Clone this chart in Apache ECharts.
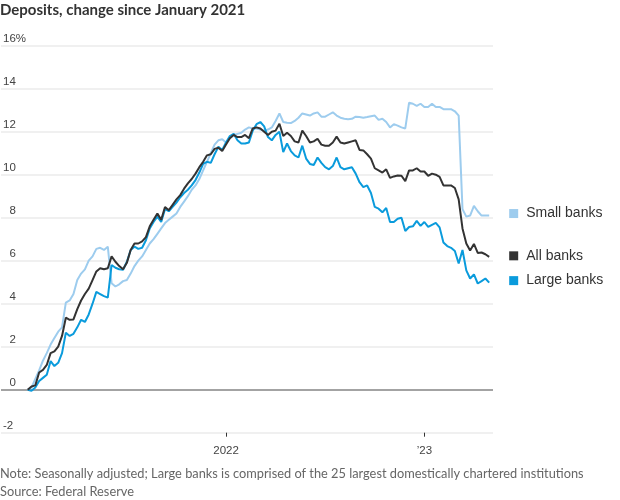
<!DOCTYPE html>
<html>
<head>
<meta charset="utf-8">
<script src="https://cdn.jsdelivr.net/npm/echarts@6/dist/echarts.min.js"></script>
<style>html,body{margin:0;padding:0;background:#fff}#c{width:620px;height:500px}</style>
</head>
<body>
<div id="c"></div>
<script>
// Weekly observations starting 2021-01-06
var startDate = '2021-01-06';
var leadWeeks = 7;   // empty weeks shown before the first observation
var trailWeeks = 1;  // empty week shown after the last observation
var smallBanks = [0,0.1,0.5,0.9,1.35,1.7,2.1,2.4,2.7,2.9,4.05,4.15,4.45,5.1,5.4,5.6,6.0,6.2,6.55,6.6,6.5,6.65,4.95,4.8,4.9,5.05,5.1,5.4,5.75,6.0,6.2,6.5,6.8,7.0,7.25,7.5,7.75,7.9,8.05,8.2,8.5,8.75,9.0,9.3,9.5,9.8,10.2,10.6,11.0,11.4,11.6,11.65,11.5,11.7,11.85,11.9,11.95,12.1,12.2,12.15,12.15,12.1,12.05,12.1,12.2,12.5,12.85,12.45,12.42,12.4,12.5,12.65,12.85,12.8,12.75,12.85,12.9,12.7,12.7,12.8,12.9,12.75,12.65,12.6,12.58,12.6,12.7,12.68,12.65,12.68,12.72,12.75,12.55,12.6,12.45,12.2,12.35,12.28,12.2,12.15,13.35,13.3,13.2,13.3,13.15,13.15,13.3,13.15,13.15,13.05,13.05,13.05,12.95,12.75,8.4,8.05,8.1,8.55,8.3,8.1,8.1,8.1];
var allBanks = [0,0.15,0.2,0.8,0.92,1.15,1.7,1.78,2.0,2.5,3.35,3.25,3.27,3.75,4.15,4.45,4.7,5.1,5.5,5.65,5.6,5.65,6.2,5.95,5.75,5.6,5.9,6.5,6.8,6.8,6.9,7.1,7.6,7.9,8.2,7.9,8.5,8.35,8.6,8.85,9.05,9.35,9.6,9.8,10.05,10.35,10.6,10.9,10.95,11.2,11.25,11.1,11.4,11.7,11.85,11.75,11.75,11.85,11.7,12.15,12.2,12.15,12.0,11.85,12.0,12.05,12.37,11.8,11.95,11.8,11.55,11.5,12.05,11.8,11.5,11.55,11.67,11.4,11.35,11.35,11.5,11.77,11.5,11.45,11.5,11.55,11.6,11.15,11.13,10.95,10.75,10.3,10.2,10.1,10.25,9.85,9.92,9.96,9.95,9.7,10.2,10.2,10.3,10.15,10.15,9.95,10.05,10.0,9.9,9.5,9.5,9.5,9.38,8.85,7.5,6.8,6.47,6.78,6.36,6.38,6.3,6.18];
var largeBanks = [0,-0.05,0.1,0.4,0.55,0.7,1.33,1.1,1.25,1.7,2.65,2.5,2.6,2.9,3.25,3.15,3.5,4.0,4.55,4.45,4.35,4.28,5.8,5.67,5.6,5.58,5.95,6.5,6.65,6.55,6.6,6.95,7.5,7.8,8.05,7.8,8.4,8.3,8.5,8.7,8.95,9.15,9.3,9.5,9.75,10.1,10.5,10.6,10.55,10.95,11.3,11.15,11.5,11.8,11.9,11.6,11.45,11.45,11.5,12.05,12.35,12.45,12.25,11.75,11.6,11.85,12.0,11.05,11.45,11.1,10.9,10.8,11.35,10.75,10.5,10.45,10.8,10.55,10.35,10.25,10.4,10.8,10.35,10.25,10.3,10.35,10.05,9.65,9.42,9.5,9.15,8.5,8.42,8.25,8.45,7.8,7.8,7.95,8.0,7.38,7.57,7.6,7.85,7.62,7.8,7.57,7.67,7.76,7.55,6.85,6.68,6.6,6.45,5.87,6.5,5.55,5.17,5.36,4.94,5.05,5.17,4.98];
var seriesNames = ['Small banks', 'All banks', 'Large banks'];
var yTicks = [-2, 0, 2, 4, 6, 8, 10, 12, 14, 16];
var xTickLabels = {'2022': '2022', '2023': '\u201923'};

var dates = [];
(function(){
  var d0 = new Date(startDate + 'T00:00:00Z').getTime();
  for (var i = -leadWeeks; i < smallBanks.length + trailWeeks; i++) {
    dates.push(new Date(d0 + i * 7 * 86400000).toISOString().slice(0, 10));
  }
})();
function pad(arr) {
  var out = [];
  for (var i = 0; i < leadWeeks; i++) out.push(null);
  out = out.concat(arr);
  for (var j = 0; j < trailWeeks; j++) out.push(null);
  return out;
}
function isLabelTick(idx) {
  if (idx === 0) return false;
  var y = dates[idx].slice(0, 4);
  return y !== dates[idx - 1].slice(0, 4) && xTickLabels.hasOwnProperty(y);
}

var colors = {'Small banks': '#9dccee', 'All banks': '#333333', 'Large banks': '#0a9bdc'};
var dataByName = {'Small banks': smallBanks, 'All banks': allBanks, 'Large banks': largeBanks};
var labelOffsets = {'Small banks': -2, 'All banks': -1, 'Large banks': -2};
var zOrder = {'Small banks': 2, 'Large banks': 3, 'All banks': 4};

var REG = '"Liberation Sans", Arial, sans-serif';
var LATO = 'Lato, "Liberation Sans", Arial, sans-serif';

var series = seriesNames.map(function(name, k) {
  var s = {
    name: name,
    type: 'line',
    data: pad(dataByName[name]),
    symbol: 'none',
    connectNulls: false,
    z: zOrder[name],
    lineStyle: {color: colors[name], width: 2},
    itemStyle: {color: colors[name]},
    endLabel: {
      show: true,
      distance: 20,
      offset: [0, labelOffsets[name]],
      formatter: '{sq| }{t|' + name + '}',
      rich: {
        sq: {width: 9, height: 9, backgroundColor: colors[name]},
        t: {fontFamily: REG, fontSize: 14, color: '#333', padding: [0, 0, 0, 8]}
      }
    },
    emphasis: {disabled: true}
  };
  if (k === 0) {
    s.markLine = {
      silent: true,
      symbol: 'none',
      label: {show: false},
      lineStyle: {color: '#8a8a8a', type: 'solid', width: 1.5},
      data: [{yAxis: 0}],
      z: 1
    };
  }
  return s;
});

var chart = echarts.init(document.getElementById('c'), null, {renderer: 'canvas'});
chart.setOption({
  animation: false,
  backgroundColor: '#fff',
  title: [
    {text: 'Deposits, change since January 2021', left: 0, top: 3, padding: 0,
     textStyle: {fontFamily: LATO, fontWeight: 'bold', fontSize: 15, color: '#333'}},
    {text: 'Note: Seasonally adjusted; Large banks is comprised of the 25 largest domestically chartered institutions', left: 0, top: 467, padding: 0,
     textStyle: {fontFamily: LATO, fontWeight: 'normal', fontSize: 12.8, color: '#666'}},
    {text: 'Source: Federal Reserve', left: 0, top: 485, padding: 0,
     textStyle: {fontFamily: LATO, fontWeight: 'normal', fontSize: 12.8, color: '#666'}}
  ],
  grid: {left: 0, right: 127, top: 45.7, bottom: 67.3, containLabel: false},
  xAxis: {
    type: 'category',
    data: dates,
    boundaryGap: false,
    axisLine: {show: false, onZero: false},
    axisTick: {show: true, length: 4, interval: function(idx){ return isLabelTick(idx); }, lineStyle: {color: '#333', width: 1}},
    axisLabel: {
      interval: function(idx){ return isLabelTick(idx); },
      formatter: function(v){ return xTickLabels[v.slice(0,4)] || ''; },
      fontFamily: REG, fontSize: 11.5, color: '#444', margin: 12
    },
    splitLine: {show: false}
  },
  yAxis: {
    type: 'value',
    min: -2, max: 16, interval: 2,
    axisLine: {show: false},
    axisTick: {show: false},
    axisLabel: {
      inside: true,
      margin: 2,
      align: 'left',
      verticalAlign: 'bottom',
      lineHeight: 13,
      fontFamily: REG, fontSize: 11.5, color: '#444',
      formatter: function(v){
        if (yTicks.indexOf(v) < 0) return '';
        if (v === 16) return '16%';
        if (v >= 0 && v < 10) return '  ' + v;
        return String(v);
      }
    },
    splitLine: {show: true, lineStyle: {color: '#ebebeb', width: 1.5}}
  },
  series: series
});
</script>
</body>
</html>
